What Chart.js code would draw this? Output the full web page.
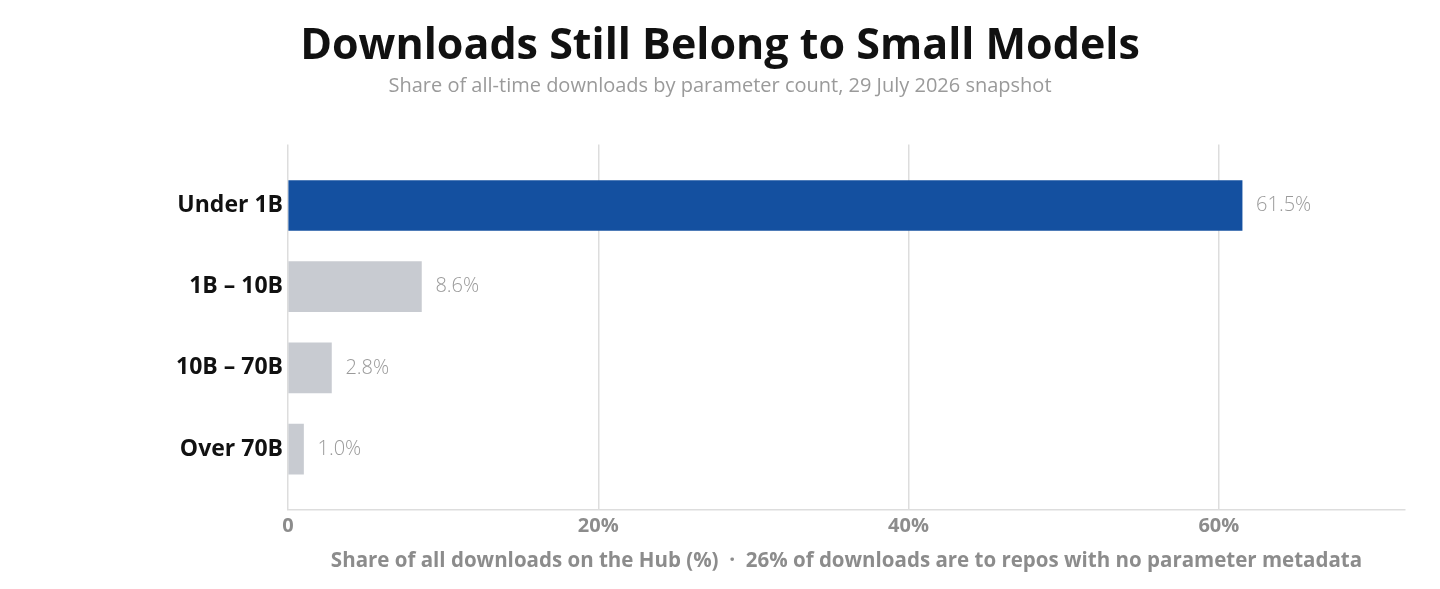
<!DOCTYPE html>
<html>
<head>
<meta charset="utf-8">
<script src="https://cdn.jsdelivr.net/npm/chart.js@4"></script>
<style>
  html, body { margin: 0; padding: 0; background: #fff; }
  #wrap { width: 1440px; height: 589px; }
</style>
</head>
<body>
<div id="wrap"><canvas id="chart"></canvas></div>
<script>
// categories and values
const categories = ["Under 1B", "1B – 10B", "10B – 70B", "Over 70B"];
const shares = [61.5, 8.6, 2.8, 1.0];
const barColors = ["#1450A0", "#C8CBD1", "#C8CBD1", "#C8CBD1"];
const xTicks = [0, 20, 40, 60];

const FONT = "'Open Sans', sans-serif";

// draw "61.5%" etc to the right of each bar
const valueLabels = {
  id: "valueLabels",
  afterDatasetsDraw(chart) {
    const ctx = chart.ctx;
    const meta = chart.getDatasetMeta(0);
    ctx.save();
    ctx.font = "300 20px " + FONT;
    ctx.fillStyle = "#9a9a9a";
    ctx.textAlign = "left";
    ctx.textBaseline = "middle";
    meta.data.forEach((bar, i) => {
      ctx.fillText(shares[i].toFixed(1) + "%", bar.x + 14, bar.y);
    });
    ctx.restore();
  }
};

new Chart(document.getElementById("chart"), {
  type: "bar",
  data: {
    datasets: [{
      data: shares.map((v, i) => ({ x: v, y: i })),
      backgroundColor: barColors,
      barThickness: 50,
      borderWidth: 0
    }]
  },
  options: {
    indexAxis: "y",
    responsive: true,
    maintainAspectRatio: false,
    animation: false,
    layout: { padding: 0 },
    plugins: {
      legend: { display: false },
      tooltip: { enabled: false },
      title: {
        display: true,
        text: "Downloads Still Belong to Small Models",
        color: "#111111",
        font: { family: FONT, size: 43, weight: "bold" },
        padding: { top: 21, bottom: 2 }
      },
      subtitle: {
        display: true,
        text: "Share of all-time downloads by parameter count, 29 July 2026 snapshot",
        color: "#9a9a9a",
        font: { family: FONT, size: 20 },
        padding: { top: 0, bottom: 46 }
      }
    },
    scales: {
      x: {
        type: "linear",
        min: 0,
        max: 72,
        afterBuildTicks: s => { s.ticks = xTicks.map(v => ({ value: v })); },
        afterFit: s => { s.height = 79; },
        grid: { color: "#dddddd", lineWidth: 1.5, drawTicks: false },
        border: { display: true, color: "#dddddd", width: 1.5 },
        ticks: {
          padding: 4,
          color: "#8c8c8c",
          font: { family: FONT, size: 20, weight: "bold" },
          callback: v => (v === 0 ? "0" : v + "%")
        },
        title: {
          display: true,
          text: "Share of all downloads on the Hub (%)  ·  26% of downloads are to repos with no parameter metadata",
          color: "#8c8c8c",
          font: { family: FONT, size: 20.5, weight: "bold" },
          padding: { top: 0, bottom: 16 }
        }
      },
      y: {
        type: "linear",
        min: -0.75,
        max: 3.75,
        reverse: true,
        offset: false,
        afterBuildTicks: s => { s.ticks = categories.map((c, i) => ({ value: i })); },
        afterFit: s => { s.width = 288; },
        grid: { display: false, offset: false, drawTicks: false },
        border: { display: false },
        ticks: {
          padding: 5,
          color: "#111111",
          font: { family: FONT, size: 23, weight: "bold" },
          callback: v => categories[v] || ""
        }
      },
      // empty right-hand gutter so the titles stay centred on the full width
      gutter: {
        type: "linear",
        position: "right",
        afterFit: s => { s.width = 35; },
        ticks: { display: false },
        grid: { display: false, drawTicks: false },
        border: { display: false }
      }
    }
  },
  plugins: [valueLabels]
});
</script>
</body>
</html>
